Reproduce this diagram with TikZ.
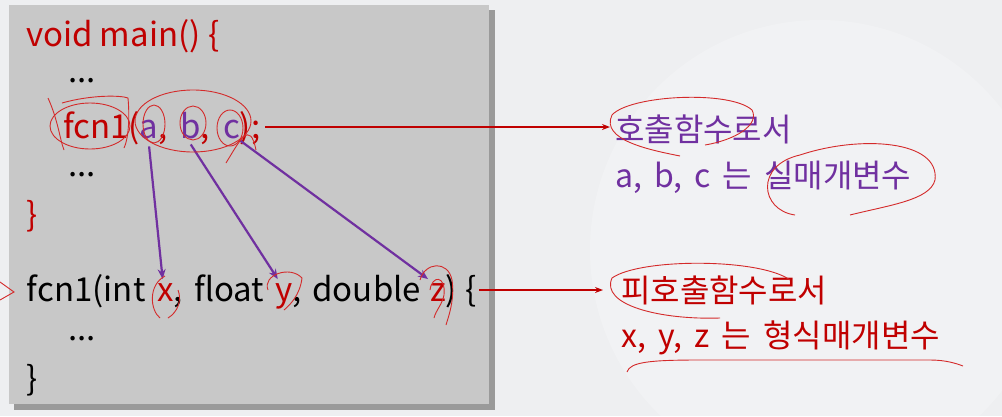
\documentclass[tikz,border=0pt]{standalone}
\usepackage{fontspec}
\setmainfont{Noto Sans CJK KR}
\usetikzlibrary{arrows.meta}
\definecolor{bg}{HTML}{EEEFF1}
\definecolor{boxc}{HTML}{C8C8C8}
\definecolor{shadowc}{HTML}{9A9A9A}
\definecolor{cred}{HTML}{C00000}
\definecolor{cpurp}{HTML}{7030A0}
\definecolor{ink}{HTML}{D42A2A}
\newcommand\widesp{\spaceskip=12pt\relax}
\newcommand\gap[1][11pt]{\hspace*{#1}\null}
\begin{document}
\begin{tikzpicture}[x=1pt,y=-1pt,
  code/.style={font=\fontsize{33}{38}\selectfont, inner sep=0pt, outer sep=0pt, anchor=base west},
  kor/.style={font=\fontsize{32}{36}\selectfont\widesp, inner sep=0pt, anchor=base west},
  parg/.style={cpurp, line width=2.2pt, -{Stealth[length=10pt,width=8pt]}},
  rarr/.style={cred, line width=1.8pt, -{Stealth[length=8pt,width=6pt]}},
  pen/.style={ink, line width=0.9pt}]
\useasboundingbox (0,0) rectangle (1002,416);
\fill[bg] (0,0) rectangle (1002,416);
\fill[white,opacity=0.22] (820,250) circle (230);
\fill[shadowc] (14,10) rectangle (495,410);
\fill[boxc] (9,5) rectangle (489,404);
% code lines
\node[code,cred] (l1) at (26,46) {void main() \{};
\node[code] (d1) at (68,82) {...};
\node[code,cred] (f1) at (63,138) {fcn1(};
\node[code,cpurp] (a) at (f1.base east) {a};
\node[code,cred] (cm1) at (a.base east) {,\gap[13pt]};
\node[code,cpurp] (b) at (cm1.base east) {b};
\node[code,cred] (cm2) at (b.base east) {,\gap[13pt]};
\node[code,cpurp] (c) at (cm2.base east) {c};
\node[code,cred] (e1) at (c.base east) {);};
\node[code] (d2) at (68,176) {...};
\node[code,cred] (l5) at (26,226) {\}};
\node[code] (g1) at (27,301) {fcn1(int\gap[12pt]};
\node[code,cred] (x) at (g1.base east) {x};
\node[code] (g2) at (x.base east) {,\gap float\gap};
\node[code,cred] (y) at (g2.base east) {y};
\node[code] (g3) at (y.base east) {,\gap double\gap[9pt]};
\node[code,cred] (z) at (g3.base east) {z};
\node[code] (g4) at (z.base east) {)\gap[9pt]\{};
\node[code] (d3) at (68,340) {...};
\node[code] (l8) at (27,390) {\}};
% right texts
\node[kor,cpurp] (k1) at (615,141) {호출함수로서};
\node[kor,cpurp] (k2) at (615,187) {a, b, c 는 실매개변수};
\node[kor,cred] (k3) at (621,302) {피호출함수로서};
\node[kor,cred] (k4) at (621,347) {x, y, z 는 형식매개변수};
% arrows
\coordinate (s1) at ([xshift=5pt,yshift=11pt]e1.base east);
\draw[rarr] (s1) -- ([xshift=-5pt]s1 -| k1.west);
\coordinate (s2) at ([xshift=2pt,yshift=11pt]g4.base east);
\draw[rarr] (s2) -- ([xshift=-18pt]s2 -| k3.west);
\draw[parg] ([yshift=-8pt]a.south) -- ([xshift=-3pt,yshift=4pt]x.north);
\draw[parg] ([yshift=-6pt]b.south) -- ([xshift=-6pt,yshift=4pt]y.north);
\draw[parg] ([yshift=-2pt]c.south east) -- ([xshift=-2pt,yshift=4pt]z.north west);
% hand annotations
\draw[pen] (90,126) ellipse [x radius=40, y radius=23];
\draw[pen] (48,98) .. controls (58,120) and (60,140) .. (64,150);
\draw[pen] (62,103) .. controls (90,95) and (120,95) .. (128,98) .. controls (130,120) and (128,140) .. (124,148);
\draw[pen] (193,121) ellipse [x radius=58, y radius=31];
\draw[pen] (154,124) ellipse [x radius=11, y radius=19];
\draw[pen] (193,123) ellipse [x radius=13, y radius=17];
\draw[pen] (230,128) ellipse [x radius=13, y radius=18];
\draw[pen] (226,163) .. controls (240,140) and (250,120) .. (256,150);
\draw[pen] (165,276) .. controls (148,285) and (150,310) .. (160,318) (168,318) .. controls (178,312) and (182,300) .. (178,290);
\draw[pen] (268,290) .. controls (262,275) and (290,265) .. (302,278) .. controls (300,295) and (290,305) .. (284,310);
\draw[pen] (420,280) .. controls (425,262) and (448,260) .. (452,280) .. controls (455,300) and (448,318) .. (446,325);
\draw[pen] (430,290) .. controls (432,275) and (446,275) .. (444,295) .. controls (442,305) and (436,310) .. (434,318);
\draw[pen] (0,282) -- (14,292) -- (0,300);
\draw[pen] (680,156) .. controls (650,150) and (600,140) .. (612,115) .. controls (630,95) and (730,90) .. (752,110) .. controls (760,125) and (735,140) .. (705,145);
\draw[pen] (795,215) .. controls (760,210) and (755,165) .. (800,155) .. controls (860,135) and (940,140) .. (935,180) .. controls (930,200) and (890,205) .. (850,215);
\draw[pen] (720,318) .. controls (660,320) and (600,305) .. (612,278) .. controls (640,258) and (760,258) .. (790,280);
\draw[pen] (627,372) .. controls (630,362) and (650,360) .. (700,360) -- (930,360) .. controls (945,360) and (955,363) .. (963,366);
\end{tikzpicture}
\end{document}
